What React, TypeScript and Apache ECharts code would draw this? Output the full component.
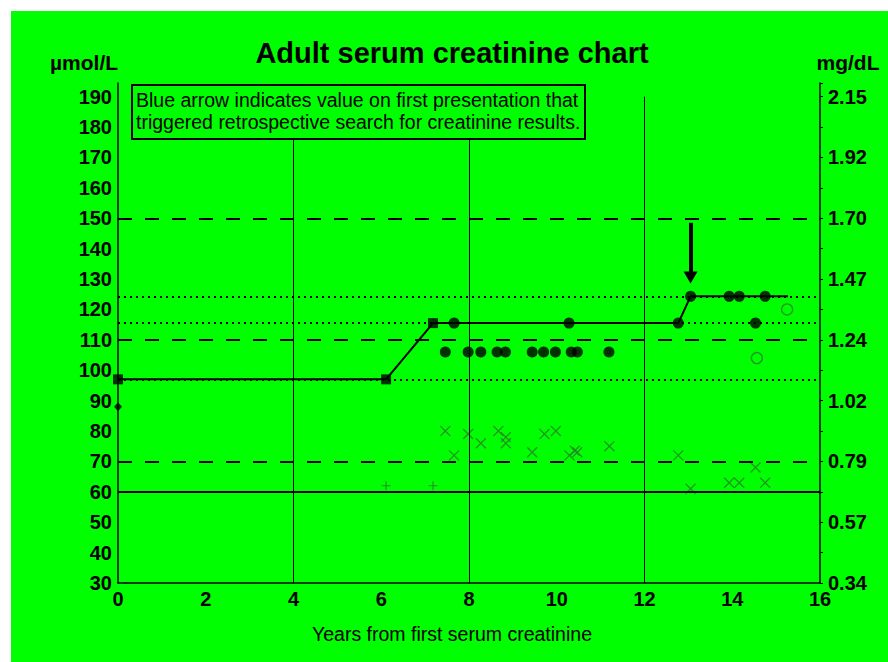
import React, { useEffect, useRef } from 'react';
import * as echarts from 'echarts';

const FONT = '"Liberation Sans", Arial, Helvetica, sans-serif';

// x range (years) and y range (µmol/L)
const xMin = 0;
const xMax = 16;
const yMin = 30;
const yMax = 194.5;
const mgFactor = 88.4;

// Solid trend line (baseline steps)
const stepYears = [0, 6.11, 7.18, 12.77, 13.05, 15.27];
const stepValues = [97, 97, 115.5, 115.5, 124.3, 124.3];

// Square markers
const squareYears = [0, 6.11, 7.18];
const squareValues = [97, 97, 115.5];

// Filled circles
const circleYears = [7.46, 7.66, 7.98, 8.27, 8.64, 8.83, 9.44, 9.7, 9.97, 10.28, 10.33, 10.47, 11.19, 12.77, 13.05, 13.93, 14.16, 14.53, 14.75];
const circleValues = [106, 115.5, 106, 106, 106, 106, 106, 106, 106, 115.5, 106, 106, 106, 115.5, 124.3, 124.3, 124.3, 115.5, 124.3];

// Open circles
const openYears = [14.56, 15.25];
const openValues = [104, 120];

// Diamond
const diamondYears = [0];
const diamondValues = [88];

// Crosses
const crossYears = [7.46, 7.66, 7.98, 8.27, 8.67, 8.84, 8.84, 9.44, 9.72, 9.98, 10.29, 10.41, 10.47, 11.2, 12.77, 13.05, 13.93, 14.16, 14.53, 14.75];
const crossValues = [80, 72, 79, 76, 80, 78, 76, 73, 79, 80, 72, 73.5, 73, 75, 72, 61, 63, 63, 68, 63];

// Plus markers
const plusYears = [6.11, 7.18];
const plusValues = [62, 62];

// Reference lines
const vGridYears = [4, 8, 12];
const vGridTop = 190;
const dashedLevels = [150, 110, 70];
const solidLevels = [60];
const dottedLevels = [124.3, 115.5, 97];

// Arrow
const arrowYear = 13.05;
const arrowFrom = 148.5;
const arrowTo = 130.5;

const legendLines = [
  'Blue arrow indicates value on first presentation that',
  'triggered retrospective search for creatinine results.',
];

const pair = (xs: number[], ys: number[]) => xs.map((x, i) => [x, ys[i]]);

export default function App() {
  const ref = useRef<HTMLDivElement>(null);

  useEffect(() => {
    if (!ref.current) return;
    const chart = echarts.init(ref.current, undefined, { renderer: 'svg' });

    const markData: any[] = [];
    dashedLevels.forEach((v) =>
      markData.push({ yAxis: v, lineStyle: { type: [14, 13], width: 2, color: '#000' } })
    );
    solidLevels.forEach((v) =>
      markData.push({ yAxis: v, lineStyle: { type: 'solid', width: 2, color: '#000' } })
    );
    dottedLevels.forEach((v) =>
      markData.push({ yAxis: v, lineStyle: { type: [2, 4], width: 2, color: '#000' } })
    );
    vGridYears.forEach((x) =>
      markData.push([
        { coord: [x, yMin], lineStyle: { type: 'solid', width: 1, color: '#000' } },
        { coord: [x, vGridTop] },
      ])
    );

    const green = '#2c7a2c';

    chart.setOption({
      animation: false,
      backgroundColor: '#00ff00',
      textStyle: { fontFamily: FONT },
      grid: { left: 107, right: 68, top: 72, bottom: 79 },
      xAxis: {
        type: 'value',
        min: xMin,
        max: xMax,
        interval: 2,
        axisLine: { show: true, onZero: false, lineStyle: { color: '#000', width: 1.5 } },
        axisTick: { show: false },
        splitLine: { show: false },
        axisLabel: { color: '#000', fontSize: 20, fontWeight: 'bold', fontFamily: FONT, margin: 6 },
      },
      yAxis: [
        {
          type: 'value',
          min: yMin,
          max: yMax,
          interval: 10,
          position: 'left',
          axisLine: { show: true, lineStyle: { color: '#000', width: 1.5 } },
          axisTick: { show: false },
          splitLine: { show: false },
          axisLabel: {
            color: '#000',
            fontSize: 20,
            fontWeight: 'bold',
            fontFamily: FONT,
            margin: 6,
            formatter: (v: number) => (v <= 190 ? String(v) : ''),
          },
        },
        {
          type: 'value',
          min: yMin,
          max: yMax,
          interval: 10,
          position: 'right',
          axisLine: { show: true, lineStyle: { color: '#000', width: 1.5 } },
          axisTick: { show: true, length: 3, lineStyle: { color: '#000', width: 1 } },
          splitLine: { show: false },
          axisLabel: {
            color: '#000',
            fontSize: 20,
            fontWeight: 'bold',
            fontFamily: FONT,
            margin: 8,
            formatter: (v: number) =>
              v <= 190 && Math.round(v - 30) % 20 === 0 ? (v / mgFactor).toFixed(2) : '',
          },
        },
      ],
      graphic: [
        {
          type: 'text',
          x: 441,
          y: 42,
          z: 100,
          style: {
            text: 'Adult serum creatinine chart',
            font: `bold 29px ${FONT}`,
            fill: '#000',
            textAlign: 'center',
            textVerticalAlign: 'middle',
          },
        },
        {
          type: 'text',
          x: 73,
          y: 51,
          z: 100,
          style: {
            text: 'µmol/L',
            font: `bold 21px ${FONT}`,
            fill: '#000',
            textAlign: 'center',
            textVerticalAlign: 'middle',
          },
        },
        {
          type: 'text',
          x: 837,
          y: 51,
          z: 100,
          style: {
            text: 'mg/dL',
            font: `bold 21px ${FONT}`,
            fill: '#000',
            textAlign: 'center',
            textVerticalAlign: 'middle',
          },
        },
        {
          type: 'text',
          x: 441,
          y: 623,
          z: 100,
          style: {
            text: 'Years from first serum creatinine',
            font: `19.5px ${FONT}`,
            fill: '#000',
            textAlign: 'center',
            textVerticalAlign: 'middle',
          },
        },
        {
          type: 'rect',
          z: 100,
          shape: { x: 121, y: 74, width: 453, height: 54 },
          style: { fill: '#00ff00', stroke: '#000', lineWidth: 2 },
        },
        {
          type: 'text',
          x: 125,
          y: 89,
          z: 101,
          style: {
            text: legendLines[0],
            font: `19.5px ${FONT}`,
            fill: '#000',
            textAlign: 'left',
            textVerticalAlign: 'middle',
          },
        },
        {
          type: 'text',
          x: 125,
          y: 111,
          z: 101,
          style: {
            text: legendLines[1],
            font: `19.5px ${FONT}`,
            fill: '#000',
            textAlign: 'left',
            textVerticalAlign: 'middle',
          },
        },
      ],
      series: [
        {
          name: 'Reference lines',
          type: 'line',
          data: [],
          z: 1,
          markLine: {
            silent: true,
            symbol: 'none',
            label: { show: false },
            animation: false,
            data: markData,
          },
        },
        {
          name: 'Trend',
          type: 'line',
          data: pair(stepYears, stepValues),
          showSymbol: false,
          symbol: 'none',
          z: 3,
          lineStyle: { color: '#000', width: 2 },
        },
        {
          name: 'Arrow',
          type: 'line',
          data: [],
          z: 6,
          markLine: {
            silent: true,
            symbol: ['none', 'triangle'],
            symbolSize: [14, 12],
            label: { show: false },
            lineStyle: { color: '#000', width: 4, type: 'solid' },
            data: [[{ coord: [arrowYear, arrowFrom] }, { coord: [arrowYear, arrowTo] }]],
          },
        },
        {
          name: 'Crosses',
          type: 'scatter',
          data: pair(crossYears, crossValues),
          symbol: 'path://M0,0L10,10M10,0L0,10',
          symbolSize: 10,
          z: 4,
          itemStyle: { color: 'transparent', borderColor: green, borderWidth: 1.3 },
        },
        {
          name: 'Plus',
          type: 'scatter',
          data: pair(plusYears, plusValues),
          symbol: 'path://M5,0L5,10M0,5L10,5',
          symbolSize: 9,
          z: 4,
          itemStyle: { color: 'transparent', borderColor: green, borderWidth: 1.2 },
        },
        {
          name: 'Open circles',
          type: 'scatter',
          data: pair(openYears, openValues),
          symbol: 'circle',
          symbolSize: 11,
          z: 4,
          itemStyle: { color: 'transparent', borderColor: green, borderWidth: 1.3 },
        },
        {
          name: 'Circles',
          type: 'scatter',
          data: pair(circleYears, circleValues),
          symbol: 'circle',
          symbolSize: 11,
          z: 5,
          itemStyle: { color: '#000' },
        },
        {
          name: 'Squares',
          type: 'scatter',
          data: pair(squareYears, squareValues),
          symbol: 'rect',
          symbolSize: 10,
          z: 5,
          itemStyle: { color: '#000' },
        },
        {
          name: 'Diamond',
          type: 'scatter',
          data: pair(diamondYears, diamondValues),
          symbol: 'diamond',
          symbolSize: [8, 9],
          z: 5,
          itemStyle: { color: '#000' },
        },
      ],
    });

    return () => chart.dispose();
  }, []);

  return (
    <div
      ref={ref}
      style={{ position: 'absolute', left: 11, top: 11, width: 877, height: 651 }}
    />
  );
}
